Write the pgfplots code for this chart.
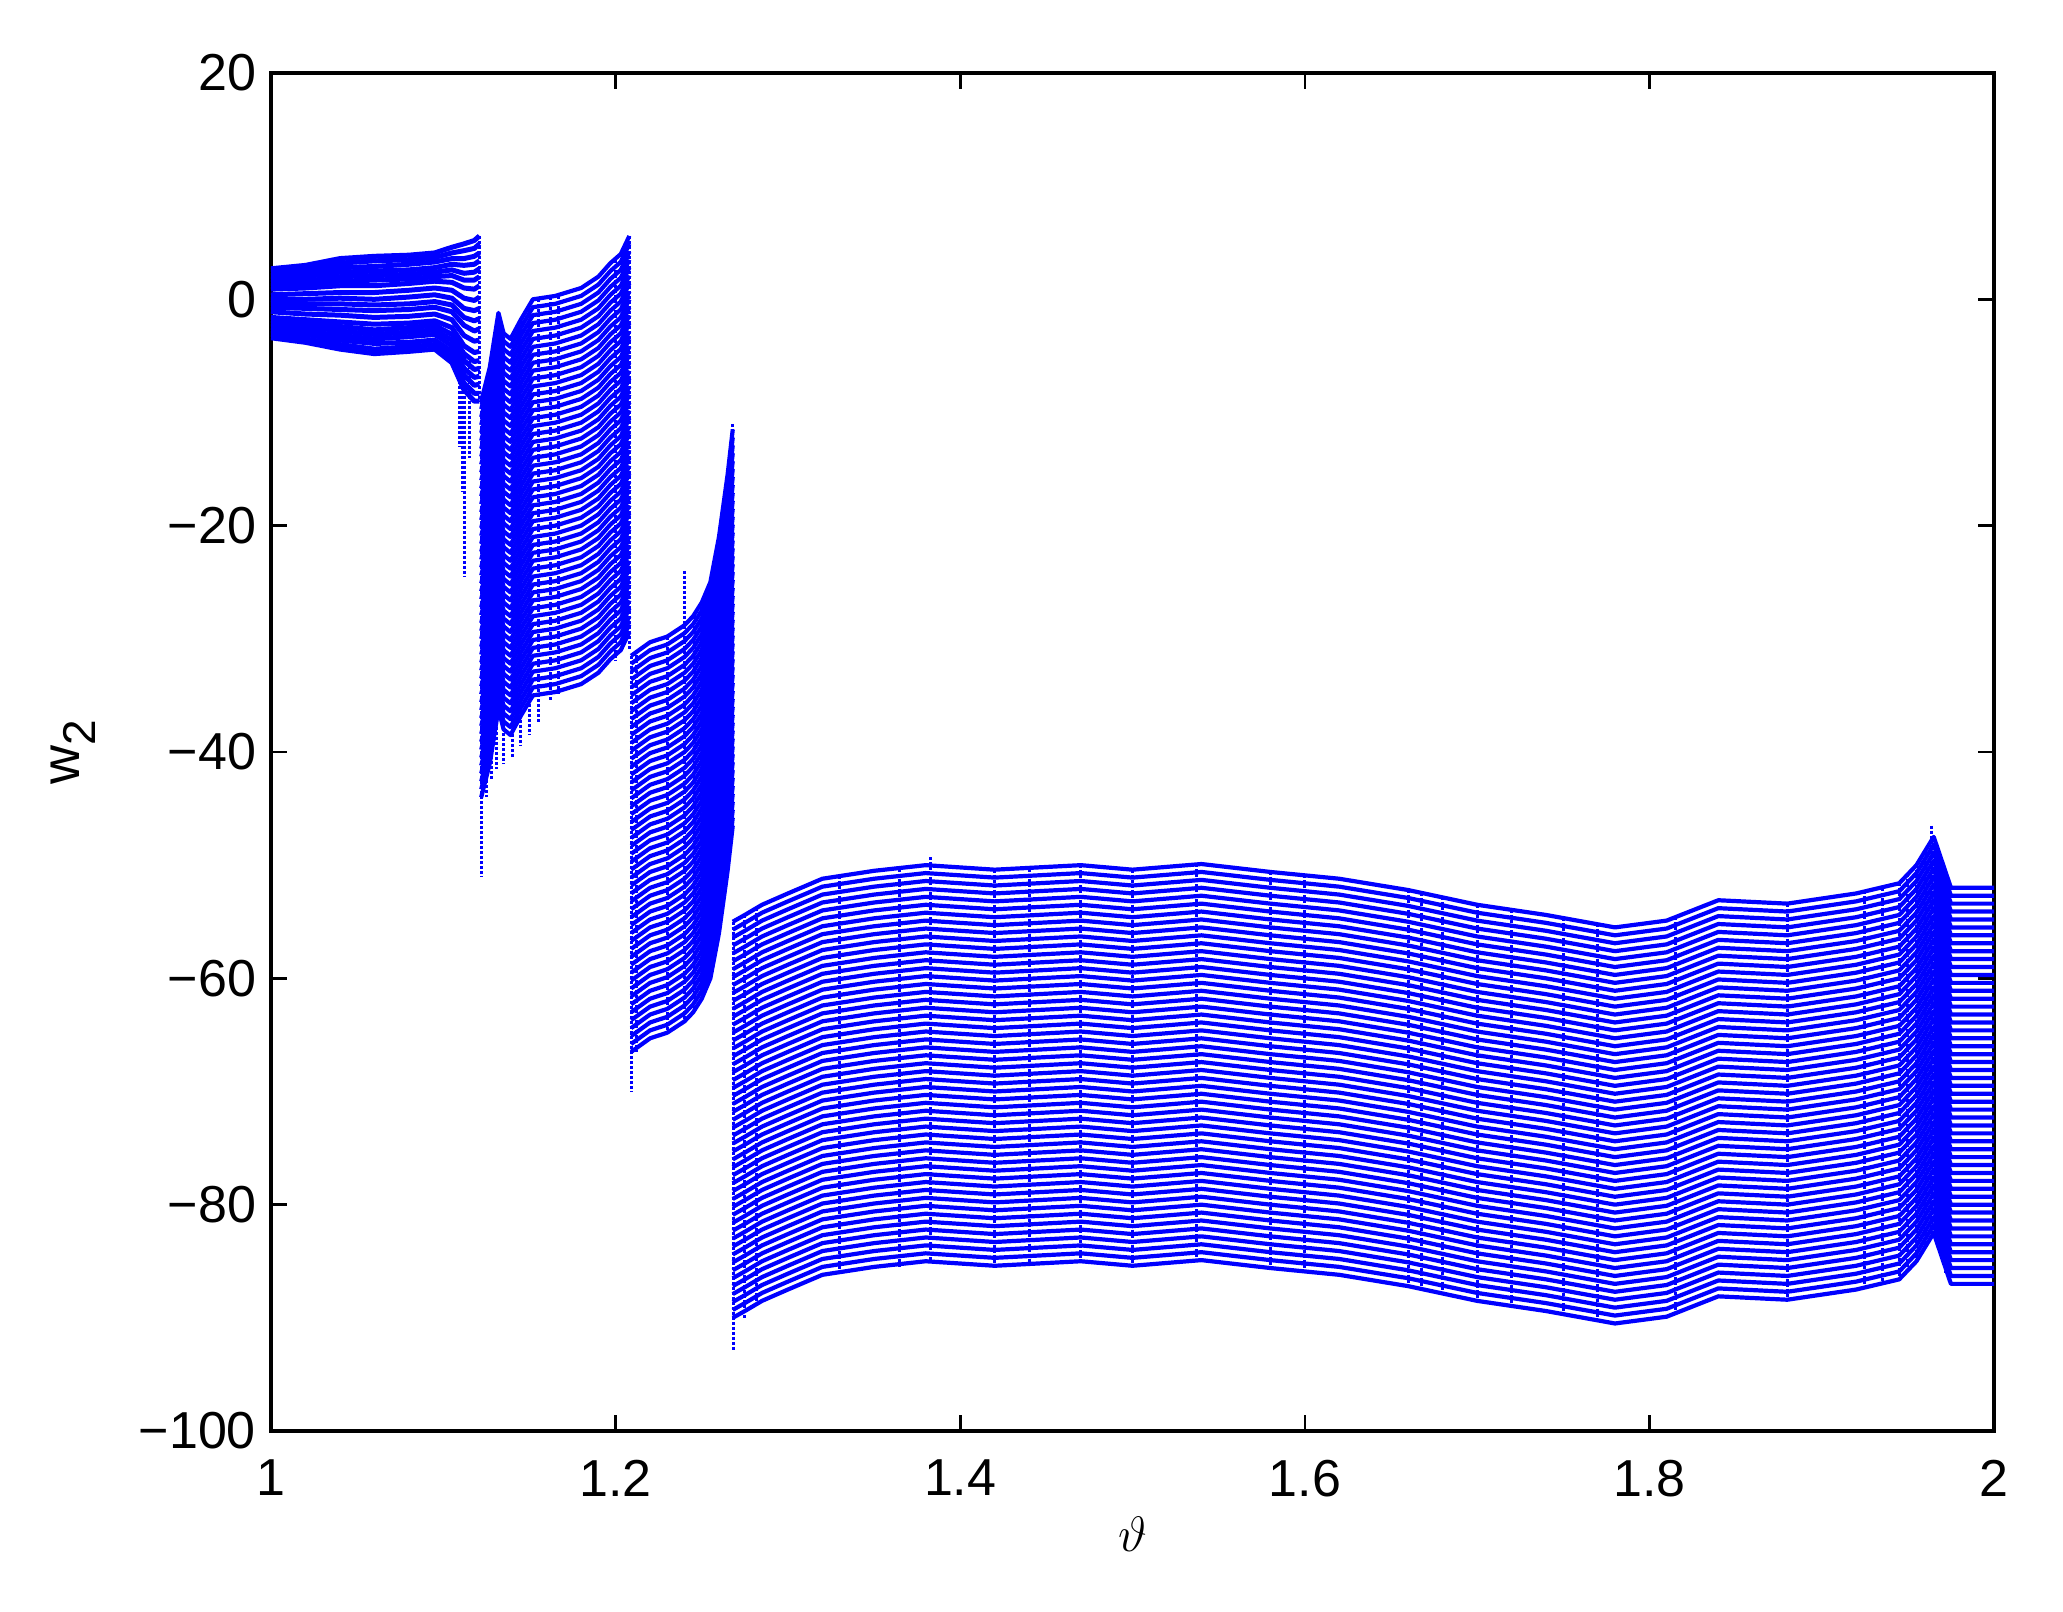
\documentclass[border=0pt]{standalone}
\usepackage{pgfplots}
\usepackage{pgfplotstable}
\pgfplotsset{compat=1.18}
\usepackage{fontspec}
\setmainfont{Liberation Sans}
\pgfplotstableread{
1.000 2.7 2.4 2.1 1.8 1.5 1.2 0.9 0.4 0.0 -0.4 -0.7 -1.1 -1.6 -1.9 -2.2 -2.5 -2.8 -3.1 -3.4
1.020 3.0 2.7 2.3 2.0 1.6 1.3 1.0 0.5 0.0 -0.4 -0.8 -1.3 -1.8 -2.1 -2.4 -2.8 -3.1 -3.5 -3.8
1.040 3.6 3.2 2.8 2.4 2.0 1.6 1.2 0.6 0.1 -0.4 -0.9 -1.4 -2.0 -2.4 -2.8 -3.2 -3.6 -4.0 -4.4
1.060 3.8 3.4 2.9 2.5 2.1 1.7 1.2 0.6 0.0 -0.5 -1.0 -1.6 -2.2 -2.7 -3.1 -3.5 -3.9 -4.4 -4.8
1.080 3.9 3.5 3.1 2.6 2.2 1.8 1.4 0.8 0.2 -0.4 -0.9 -1.5 -2.1 -2.5 -2.9 -3.3 -3.8 -4.2 -4.6
1.095 4.1 3.7 3.3 2.8 2.4 2.0 1.6 1.0 0.4 -0.2 -0.7 -1.3 -1.9 -2.3 -2.7 -3.1 -3.6 -4.0 -4.4
1.105 4.6 4.1 3.6 3.1 2.6 2.1 1.5 0.8 0.1 -0.5 -1.1 -1.8 -2.5 -3.1 -3.6 -4.1 -4.6 -5.1 -5.6
1.112 4.9 4.3 3.6 3.0 2.3 1.7 1.0 0.1 -0.8 -1.6 -2.3 -3.2 -4.1 -4.8 -5.4 -6.1 -6.7 -7.4 -8.0
1.118 5.2 4.5 3.8 3.1 2.4 1.7 0.9 -0.1 -1.0 -1.9 -2.8 -3.7 -4.7 -5.5 -6.2 -6.9 -7.6 -8.3 -9.0
1.121 5.6 4.9 4.1 3.4 2.7 2.0 1.2 0.2 -0.8 -1.7 -2.6 -3.6 -4.6 -5.4 -6.1 -6.8 -7.5 -8.3 -9.0
}\bandA
\pgfplotstableread{
1.122 -9.0 -9.7 -10.4 -11.1 -11.8 -12.5 -13.2 -13.9 -14.6 -15.3 -16.0 -16.7 -17.4 -18.1 -18.8 -19.5 -20.2 -20.9 -21.6 -22.3 -23.0 -23.7 -24.4 -25.1 -25.8 -26.5 -27.2 -27.9 -28.6 -29.3 -30.0 -30.7 -31.4 -32.1 -32.8 -33.5 -34.2 -34.9 -35.6 -36.3 -37.0 -37.7 -38.4 -39.1 -39.8 -40.5 -41.2 -41.9 -42.6 -43.3 -44.0
1.127 -6.0 -6.7 -7.4 -8.1 -8.8 -9.5 -10.2 -10.9 -11.6 -12.3 -13.0 -13.7 -14.4 -15.1 -15.8 -16.5 -17.2 -17.9 -18.6 -19.3 -20.0 -20.7 -21.4 -22.1 -22.8 -23.5 -24.2 -24.9 -25.6 -26.3 -27.0 -27.7 -28.4 -29.1 -29.8 -30.5 -31.2 -31.9 -32.6 -33.3 -34.0 -34.7 -35.4 -36.1 -36.8 -37.5 -38.2 -38.9 -39.6 -40.3 -41.0
1.132 -1.2 -1.9 -2.6 -3.3 -4.0 -4.7 -5.4 -6.1 -6.8 -7.5 -8.2 -8.9 -9.6 -10.3 -11.0 -11.7 -12.4 -13.1 -13.8 -14.5 -15.2 -15.9 -16.6 -17.3 -18.0 -18.7 -19.4 -20.1 -20.8 -21.5 -22.2 -22.9 -23.6 -24.3 -25.0 -25.7 -26.4 -27.1 -27.8 -28.5 -29.2 -29.9 -30.6 -31.3 -32.0 -32.7 -33.4 -34.1 -34.8 -35.5 -36.2
1.135 -3.0 -3.7 -4.4 -5.1 -5.8 -6.5 -7.2 -7.9 -8.6 -9.3 -10.0 -10.7 -11.4 -12.1 -12.8 -13.5 -14.2 -14.9 -15.6 -16.3 -17.0 -17.7 -18.4 -19.1 -19.8 -20.5 -21.2 -21.9 -22.6 -23.3 -24.0 -24.7 -25.4 -26.1 -26.8 -27.5 -28.2 -28.9 -29.6 -30.3 -31.0 -31.7 -32.4 -33.1 -33.8 -34.5 -35.2 -35.9 -36.6 -37.3 -38.0
1.139 -3.5 -4.2 -4.9 -5.6 -6.3 -7.0 -7.7 -8.4 -9.1 -9.8 -10.5 -11.2 -11.9 -12.6 -13.3 -14.0 -14.7 -15.4 -16.1 -16.8 -17.5 -18.2 -18.9 -19.6 -20.3 -21.0 -21.7 -22.4 -23.1 -23.8 -24.5 -25.2 -25.9 -26.6 -27.3 -28.0 -28.7 -29.4 -30.1 -30.8 -31.5 -32.2 -32.9 -33.6 -34.3 -35.0 -35.7 -36.4 -37.1 -37.8 -38.5
1.145 -1.8 -2.5 -3.2 -3.9 -4.6 -5.3 -6.0 -6.7 -7.4 -8.1 -8.8 -9.5 -10.2 -10.9 -11.6 -12.3 -13.0 -13.7 -14.4 -15.1 -15.8 -16.5 -17.2 -17.9 -18.6 -19.3 -20.0 -20.7 -21.4 -22.1 -22.8 -23.5 -24.2 -24.9 -25.6 -26.3 -27.0 -27.7 -28.4 -29.1 -29.8 -30.5 -31.2 -31.9 -32.6 -33.3 -34.0 -34.7 -35.4 -36.1 -36.8
1.152 0.0 -0.7 -1.4 -2.1 -2.8 -3.5 -4.2 -4.9 -5.6 -6.3 -7.0 -7.7 -8.4 -9.1 -9.8 -10.5 -11.2 -11.9 -12.6 -13.3 -14.0 -14.7 -15.4 -16.1 -16.8 -17.5 -18.2 -18.9 -19.6 -20.3 -21.0 -21.7 -22.4 -23.1 -23.8 -24.5 -25.2 -25.9 -26.6 -27.3 -28.0 -28.7 -29.4 -30.1 -30.8 -31.5 -32.2 -32.9 -33.6 -34.3 -35.0
1.165 0.3 -0.4 -1.1 -1.8 -2.5 -3.2 -3.9 -4.6 -5.3 -6.0 -6.7 -7.4 -8.1 -8.8 -9.5 -10.2 -10.9 -11.6 -12.3 -13.0 -13.7 -14.4 -15.1 -15.8 -16.5 -17.2 -17.9 -18.6 -19.3 -20.0 -20.7 -21.4 -22.1 -22.8 -23.5 -24.2 -24.9 -25.6 -26.3 -27.0 -27.7 -28.4 -29.1 -29.8 -30.5 -31.2 -31.9 -32.6 -33.3 -34.0 -34.7
1.180 1.0 0.3 -0.4 -1.1 -1.8 -2.5 -3.2 -3.9 -4.6 -5.3 -6.0 -6.7 -7.4 -8.1 -8.8 -9.5 -10.2 -10.9 -11.6 -12.3 -13.0 -13.7 -14.4 -15.1 -15.8 -16.5 -17.2 -17.9 -18.6 -19.3 -20.0 -20.7 -21.4 -22.1 -22.8 -23.5 -24.2 -24.9 -25.6 -26.3 -27.0 -27.7 -28.4 -29.1 -29.8 -30.5 -31.2 -31.9 -32.6 -33.3 -34.0
1.190 2.0 1.3 0.6 -0.1 -0.8 -1.5 -2.2 -2.9 -3.6 -4.3 -5.0 -5.7 -6.4 -7.1 -7.8 -8.5 -9.2 -9.9 -10.6 -11.3 -12.0 -12.7 -13.4 -14.1 -14.8 -15.5 -16.2 -16.9 -17.6 -18.3 -19.0 -19.7 -20.4 -21.1 -21.8 -22.5 -23.2 -23.9 -24.6 -25.3 -26.0 -26.7 -27.4 -28.1 -28.8 -29.5 -30.2 -30.9 -31.6 -32.3 -33.0
1.197 3.2 2.5 1.8 1.1 0.4 -0.3 -1.0 -1.7 -2.4 -3.1 -3.8 -4.5 -5.2 -5.9 -6.6 -7.3 -8.0 -8.7 -9.4 -10.1 -10.8 -11.5 -12.2 -12.9 -13.6 -14.3 -15.0 -15.7 -16.4 -17.1 -17.8 -18.5 -19.2 -19.9 -20.6 -21.3 -22.0 -22.7 -23.4 -24.1 -24.8 -25.5 -26.2 -26.9 -27.6 -28.3 -29.0 -29.7 -30.4 -31.1 -31.8
1.203 4.0 3.3 2.6 1.9 1.2 0.5 -0.2 -0.9 -1.6 -2.3 -3.0 -3.7 -4.4 -5.1 -5.8 -6.5 -7.2 -7.9 -8.6 -9.3 -10.0 -10.7 -11.4 -12.1 -12.8 -13.5 -14.2 -14.9 -15.6 -16.3 -17.0 -17.7 -18.4 -19.1 -19.8 -20.5 -21.2 -21.9 -22.6 -23.3 -24.0 -24.7 -25.4 -26.1 -26.8 -27.5 -28.2 -28.9 -29.6 -30.3 -31.0
1.208 5.6 4.9 4.2 3.5 2.8 2.1 1.4 0.7 0.0 -0.7 -1.4 -2.1 -2.8 -3.5 -4.2 -4.9 -5.6 -6.3 -7.0 -7.7 -8.4 -9.1 -9.8 -10.5 -11.2 -11.9 -12.6 -13.3 -14.0 -14.7 -15.4 -16.1 -16.8 -17.5 -18.2 -18.9 -19.6 -20.3 -21.0 -21.7 -22.4 -23.1 -23.8 -24.5 -25.2 -25.9 -26.6 -27.3 -28.0 -28.7 -29.4
}\bandB
\pgfplotstableread{
1.209 -31.5 -32.2 -32.9 -33.6 -34.3 -35.0 -35.7 -36.4 -37.1 -37.8 -38.5 -39.2 -39.9 -40.6 -41.3 -42.0 -42.7 -43.4 -44.1 -44.8 -45.5 -46.2 -46.9 -47.6 -48.3 -49.0 -49.7 -50.4 -51.1 -51.8 -52.5 -53.2 -53.9 -54.6 -55.3 -56.0 -56.7 -57.4 -58.1 -58.8 -59.5 -60.2 -60.9 -61.6 -62.3 -63.0 -63.7 -64.4 -65.1 -65.8 -66.5
1.220 -30.3 -31.0 -31.7 -32.4 -33.1 -33.8 -34.5 -35.2 -35.9 -36.6 -37.3 -38.0 -38.7 -39.4 -40.1 -40.8 -41.5 -42.2 -42.9 -43.6 -44.3 -45.0 -45.7 -46.4 -47.1 -47.8 -48.5 -49.2 -49.9 -50.6 -51.3 -52.0 -52.7 -53.4 -54.1 -54.8 -55.5 -56.2 -56.9 -57.6 -58.3 -59.0 -59.7 -60.4 -61.1 -61.8 -62.5 -63.2 -63.9 -64.6 -65.3
1.230 -29.8 -30.5 -31.2 -31.9 -32.6 -33.3 -34.0 -34.7 -35.4 -36.1 -36.8 -37.5 -38.2 -38.9 -39.6 -40.3 -41.0 -41.7 -42.4 -43.1 -43.8 -44.5 -45.2 -45.9 -46.6 -47.3 -48.0 -48.7 -49.4 -50.1 -50.8 -51.5 -52.2 -52.9 -53.6 -54.3 -55.0 -55.7 -56.4 -57.1 -57.8 -58.5 -59.2 -59.9 -60.6 -61.3 -62.0 -62.7 -63.4 -64.1 -64.8
1.240 -28.8 -29.5 -30.2 -30.9 -31.6 -32.3 -33.0 -33.7 -34.4 -35.1 -35.8 -36.5 -37.2 -37.9 -38.6 -39.3 -40.0 -40.7 -41.4 -42.1 -42.8 -43.5 -44.2 -44.9 -45.6 -46.3 -47.0 -47.7 -48.4 -49.1 -49.8 -50.5 -51.2 -51.9 -52.6 -53.3 -54.0 -54.7 -55.4 -56.1 -56.8 -57.5 -58.2 -58.9 -59.6 -60.3 -61.0 -61.7 -62.4 -63.1 -63.8
1.245 -28.0 -28.7 -29.4 -30.1 -30.8 -31.5 -32.2 -32.9 -33.6 -34.3 -35.0 -35.7 -36.4 -37.1 -37.8 -38.5 -39.2 -39.9 -40.6 -41.3 -42.0 -42.7 -43.4 -44.1 -44.8 -45.5 -46.2 -46.9 -47.6 -48.3 -49.0 -49.7 -50.4 -51.1 -51.8 -52.5 -53.2 -53.9 -54.6 -55.3 -56.0 -56.7 -57.4 -58.1 -58.8 -59.5 -60.2 -60.9 -61.6 -62.3 -63.0
1.250 -26.8 -27.5 -28.2 -28.9 -29.6 -30.3 -31.0 -31.7 -32.4 -33.1 -33.8 -34.5 -35.2 -35.9 -36.6 -37.3 -38.0 -38.7 -39.4 -40.1 -40.8 -41.5 -42.2 -42.9 -43.6 -44.3 -45.0 -45.7 -46.4 -47.1 -47.8 -48.5 -49.2 -49.9 -50.6 -51.3 -52.0 -52.7 -53.4 -54.1 -54.8 -55.5 -56.2 -56.9 -57.6 -58.3 -59.0 -59.7 -60.4 -61.1 -61.8
1.255 -25.0 -25.7 -26.4 -27.1 -27.8 -28.5 -29.2 -29.9 -30.6 -31.3 -32.0 -32.7 -33.4 -34.1 -34.8 -35.5 -36.2 -36.9 -37.6 -38.3 -39.0 -39.7 -40.4 -41.1 -41.8 -42.5 -43.2 -43.9 -44.6 -45.3 -46.0 -46.7 -47.4 -48.1 -48.8 -49.5 -50.2 -50.9 -51.6 -52.3 -53.0 -53.7 -54.4 -55.1 -55.8 -56.5 -57.2 -57.9 -58.6 -59.3 -60.0
1.260 -21.0 -21.7 -22.4 -23.1 -23.8 -24.5 -25.2 -25.9 -26.6 -27.3 -28.0 -28.7 -29.4 -30.1 -30.8 -31.5 -32.2 -32.9 -33.6 -34.3 -35.0 -35.7 -36.4 -37.1 -37.8 -38.5 -39.2 -39.9 -40.6 -41.3 -42.0 -42.7 -43.4 -44.1 -44.8 -45.5 -46.2 -46.9 -47.6 -48.3 -49.0 -49.7 -50.4 -51.1 -51.8 -52.5 -53.2 -53.9 -54.6 -55.3 -56.0
1.265 -15.5 -16.2 -16.9 -17.6 -18.3 -19.0 -19.7 -20.4 -21.1 -21.8 -22.5 -23.2 -23.9 -24.6 -25.3 -26.0 -26.7 -27.4 -28.1 -28.8 -29.5 -30.2 -30.9 -31.6 -32.3 -33.0 -33.7 -34.4 -35.1 -35.8 -36.5 -37.2 -37.9 -38.6 -39.3 -40.0 -40.7 -41.4 -42.1 -42.8 -43.5 -44.2 -44.9 -45.6 -46.3 -47.0 -47.7 -48.4 -49.1 -49.8 -50.5
1.268 -11.5 -12.2 -12.9 -13.6 -14.3 -15.0 -15.7 -16.4 -17.1 -17.8 -18.5 -19.2 -19.9 -20.6 -21.3 -22.0 -22.7 -23.4 -24.1 -24.8 -25.5 -26.2 -26.9 -27.6 -28.3 -29.0 -29.7 -30.4 -31.1 -31.8 -32.5 -33.2 -33.9 -34.6 -35.3 -36.0 -36.7 -37.4 -38.1 -38.8 -39.5 -40.2 -40.9 -41.6 -42.3 -43.0 -43.7 -44.4 -45.1 -45.8 -46.5
}\bandC
\pgfplotstableread{
1.268 -55.0 -55.7 -56.4 -57.1 -57.8 -58.5 -59.2 -59.9 -60.6 -61.3 -62.0 -62.7 -63.4 -64.1 -64.8 -65.5 -66.2 -66.9 -67.6 -68.3 -69.0 -69.7 -70.4 -71.1 -71.8 -72.5 -73.2 -73.9 -74.6 -75.3 -76.0 -76.7 -77.4 -78.1 -78.8 -79.5 -80.2 -80.9 -81.6 -82.3 -83.0 -83.7 -84.4 -85.1 -85.8 -86.5 -87.2 -87.9 -88.6 -89.3 -90.0
1.275 -54.4 -55.1 -55.8 -56.5 -57.2 -57.9 -58.6 -59.3 -60.0 -60.7 -61.4 -62.1 -62.8 -63.5 -64.2 -64.9 -65.6 -66.3 -67.0 -67.7 -68.4 -69.1 -69.8 -70.5 -71.2 -71.9 -72.6 -73.3 -74.0 -74.7 -75.4 -76.1 -76.8 -77.5 -78.2 -78.9 -79.6 -80.3 -81.0 -81.7 -82.4 -83.1 -83.8 -84.5 -85.2 -85.9 -86.6 -87.3 -88.0 -88.7 -89.4
1.285 -53.5 -54.2 -54.9 -55.6 -56.3 -57.0 -57.7 -58.4 -59.1 -59.8 -60.5 -61.2 -61.9 -62.6 -63.3 -64.0 -64.7 -65.4 -66.1 -66.8 -67.5 -68.2 -68.9 -69.6 -70.3 -71.0 -71.7 -72.4 -73.1 -73.8 -74.5 -75.2 -75.9 -76.6 -77.3 -78.0 -78.7 -79.4 -80.1 -80.8 -81.5 -82.2 -82.9 -83.6 -84.3 -85.0 -85.7 -86.4 -87.1 -87.8 -88.5
1.300 -52.5 -53.2 -53.9 -54.6 -55.3 -56.0 -56.7 -57.4 -58.1 -58.8 -59.5 -60.2 -60.9 -61.6 -62.3 -63.0 -63.7 -64.4 -65.1 -65.8 -66.5 -67.2 -67.9 -68.6 -69.3 -70.0 -70.7 -71.4 -72.1 -72.8 -73.5 -74.2 -74.9 -75.6 -76.3 -77.0 -77.7 -78.4 -79.1 -79.8 -80.5 -81.2 -81.9 -82.6 -83.3 -84.0 -84.7 -85.4 -86.1 -86.8 -87.5
1.320 -51.2 -51.9 -52.6 -53.3 -54.0 -54.7 -55.4 -56.1 -56.8 -57.5 -58.2 -58.9 -59.6 -60.3 -61.0 -61.7 -62.4 -63.1 -63.8 -64.5 -65.2 -65.9 -66.6 -67.3 -68.0 -68.7 -69.4 -70.1 -70.8 -71.5 -72.2 -72.9 -73.6 -74.3 -75.0 -75.7 -76.4 -77.1 -77.8 -78.5 -79.2 -79.9 -80.6 -81.3 -82.0 -82.7 -83.4 -84.1 -84.8 -85.5 -86.2
1.350 -50.5 -51.2 -51.9 -52.6 -53.3 -54.0 -54.7 -55.4 -56.1 -56.8 -57.5 -58.2 -58.9 -59.6 -60.3 -61.0 -61.7 -62.4 -63.1 -63.8 -64.5 -65.2 -65.9 -66.6 -67.3 -68.0 -68.7 -69.4 -70.1 -70.8 -71.5 -72.2 -72.9 -73.6 -74.3 -75.0 -75.7 -76.4 -77.1 -77.8 -78.5 -79.2 -79.9 -80.6 -81.3 -82.0 -82.7 -83.4 -84.1 -84.8 -85.5
1.380 -50.0 -50.7 -51.4 -52.1 -52.8 -53.5 -54.2 -54.9 -55.6 -56.3 -57.0 -57.7 -58.4 -59.1 -59.8 -60.5 -61.2 -61.9 -62.6 -63.3 -64.0 -64.7 -65.4 -66.1 -66.8 -67.5 -68.2 -68.9 -69.6 -70.3 -71.0 -71.7 -72.4 -73.1 -73.8 -74.5 -75.2 -75.9 -76.6 -77.3 -78.0 -78.7 -79.4 -80.1 -80.8 -81.5 -82.2 -82.9 -83.6 -84.3 -85.0
1.420 -50.4 -51.1 -51.8 -52.5 -53.2 -53.9 -54.6 -55.3 -56.0 -56.7 -57.4 -58.1 -58.8 -59.5 -60.2 -60.9 -61.6 -62.3 -63.0 -63.7 -64.4 -65.1 -65.8 -66.5 -67.2 -67.9 -68.6 -69.3 -70.0 -70.7 -71.4 -72.1 -72.8 -73.5 -74.2 -74.9 -75.6 -76.3 -77.0 -77.7 -78.4 -79.1 -79.8 -80.5 -81.2 -81.9 -82.6 -83.3 -84.0 -84.7 -85.4
1.470 -50.0 -50.7 -51.4 -52.1 -52.8 -53.5 -54.2 -54.9 -55.6 -56.3 -57.0 -57.7 -58.4 -59.1 -59.8 -60.5 -61.2 -61.9 -62.6 -63.3 -64.0 -64.7 -65.4 -66.1 -66.8 -67.5 -68.2 -68.9 -69.6 -70.3 -71.0 -71.7 -72.4 -73.1 -73.8 -74.5 -75.2 -75.9 -76.6 -77.3 -78.0 -78.7 -79.4 -80.1 -80.8 -81.5 -82.2 -82.9 -83.6 -84.3 -85.0
1.500 -50.4 -51.1 -51.8 -52.5 -53.2 -53.9 -54.6 -55.3 -56.0 -56.7 -57.4 -58.1 -58.8 -59.5 -60.2 -60.9 -61.6 -62.3 -63.0 -63.7 -64.4 -65.1 -65.8 -66.5 -67.2 -67.9 -68.6 -69.3 -70.0 -70.7 -71.4 -72.1 -72.8 -73.5 -74.2 -74.9 -75.6 -76.3 -77.0 -77.7 -78.4 -79.1 -79.8 -80.5 -81.2 -81.9 -82.6 -83.3 -84.0 -84.7 -85.4
1.540 -49.9 -50.6 -51.3 -52.0 -52.7 -53.4 -54.1 -54.8 -55.5 -56.2 -56.9 -57.6 -58.3 -59.0 -59.7 -60.4 -61.1 -61.8 -62.5 -63.2 -63.9 -64.6 -65.3 -66.0 -66.7 -67.4 -68.1 -68.8 -69.5 -70.2 -70.9 -71.6 -72.3 -73.0 -73.7 -74.4 -75.1 -75.8 -76.5 -77.2 -77.9 -78.6 -79.3 -80.0 -80.7 -81.4 -82.1 -82.8 -83.5 -84.2 -84.9
1.580 -50.6 -51.3 -52.0 -52.7 -53.4 -54.1 -54.8 -55.5 -56.2 -56.9 -57.6 -58.3 -59.0 -59.7 -60.4 -61.1 -61.8 -62.5 -63.2 -63.9 -64.6 -65.3 -66.0 -66.7 -67.4 -68.1 -68.8 -69.5 -70.2 -70.9 -71.6 -72.3 -73.0 -73.7 -74.4 -75.1 -75.8 -76.5 -77.2 -77.9 -78.6 -79.3 -80.0 -80.7 -81.4 -82.1 -82.8 -83.5 -84.2 -84.9 -85.6
1.620 -51.2 -51.9 -52.6 -53.3 -54.0 -54.7 -55.4 -56.1 -56.8 -57.5 -58.2 -58.9 -59.6 -60.3 -61.0 -61.7 -62.4 -63.1 -63.8 -64.5 -65.2 -65.9 -66.6 -67.3 -68.0 -68.7 -69.4 -70.1 -70.8 -71.5 -72.2 -72.9 -73.6 -74.3 -75.0 -75.7 -76.4 -77.1 -77.8 -78.5 -79.2 -79.9 -80.6 -81.3 -82.0 -82.7 -83.4 -84.1 -84.8 -85.5 -86.2
1.660 -52.2 -52.9 -53.6 -54.3 -55.0 -55.7 -56.4 -57.1 -57.8 -58.5 -59.2 -59.9 -60.6 -61.3 -62.0 -62.7 -63.4 -64.1 -64.8 -65.5 -66.2 -66.9 -67.6 -68.3 -69.0 -69.7 -70.4 -71.1 -71.8 -72.5 -73.2 -73.9 -74.6 -75.3 -76.0 -76.7 -77.4 -78.1 -78.8 -79.5 -80.2 -80.9 -81.6 -82.3 -83.0 -83.7 -84.4 -85.1 -85.8 -86.5 -87.2
1.700 -53.5 -54.2 -54.9 -55.6 -56.3 -57.0 -57.7 -58.4 -59.1 -59.8 -60.5 -61.2 -61.9 -62.6 -63.3 -64.0 -64.7 -65.4 -66.1 -66.8 -67.5 -68.2 -68.9 -69.6 -70.3 -71.0 -71.7 -72.4 -73.1 -73.8 -74.5 -75.2 -75.9 -76.6 -77.3 -78.0 -78.7 -79.4 -80.1 -80.8 -81.5 -82.2 -82.9 -83.6 -84.3 -85.0 -85.7 -86.4 -87.1 -87.8 -88.5
1.740 -54.4 -55.1 -55.8 -56.5 -57.2 -57.9 -58.6 -59.3 -60.0 -60.7 -61.4 -62.1 -62.8 -63.5 -64.2 -64.9 -65.6 -66.3 -67.0 -67.7 -68.4 -69.1 -69.8 -70.5 -71.2 -71.9 -72.6 -73.3 -74.0 -74.7 -75.4 -76.1 -76.8 -77.5 -78.2 -78.9 -79.6 -80.3 -81.0 -81.7 -82.4 -83.1 -83.8 -84.5 -85.2 -85.9 -86.6 -87.3 -88.0 -88.7 -89.4
1.780 -55.5 -56.2 -56.9 -57.6 -58.3 -59.0 -59.7 -60.4 -61.1 -61.8 -62.5 -63.2 -63.9 -64.6 -65.3 -66.0 -66.7 -67.4 -68.1 -68.8 -69.5 -70.2 -70.9 -71.6 -72.3 -73.0 -73.7 -74.4 -75.1 -75.8 -76.5 -77.2 -77.9 -78.6 -79.3 -80.0 -80.7 -81.4 -82.1 -82.8 -83.5 -84.2 -84.9 -85.6 -86.3 -87.0 -87.7 -88.4 -89.1 -89.8 -90.5
1.810 -54.9 -55.6 -56.3 -57.0 -57.7 -58.4 -59.1 -59.8 -60.5 -61.2 -61.9 -62.6 -63.3 -64.0 -64.7 -65.4 -66.1 -66.8 -67.5 -68.2 -68.9 -69.6 -70.3 -71.0 -71.7 -72.4 -73.1 -73.8 -74.5 -75.2 -75.9 -76.6 -77.3 -78.0 -78.7 -79.4 -80.1 -80.8 -81.5 -82.2 -82.9 -83.6 -84.3 -85.0 -85.7 -86.4 -87.1 -87.8 -88.5 -89.2 -89.9
1.840 -53.1 -53.8 -54.5 -55.2 -55.9 -56.6 -57.3 -58.0 -58.7 -59.4 -60.1 -60.8 -61.5 -62.2 -62.9 -63.6 -64.3 -65.0 -65.7 -66.4 -67.1 -67.8 -68.5 -69.2 -69.9 -70.6 -71.3 -72.0 -72.7 -73.4 -74.1 -74.8 -75.5 -76.2 -76.9 -77.6 -78.3 -79.0 -79.7 -80.4 -81.1 -81.8 -82.5 -83.2 -83.9 -84.6 -85.3 -86.0 -86.7 -87.4 -88.1
1.880 -53.4 -54.1 -54.8 -55.5 -56.2 -56.9 -57.6 -58.3 -59.0 -59.7 -60.4 -61.1 -61.8 -62.5 -63.2 -63.9 -64.6 -65.3 -66.0 -66.7 -67.4 -68.1 -68.8 -69.5 -70.2 -70.9 -71.6 -72.3 -73.0 -73.7 -74.4 -75.1 -75.8 -76.5 -77.2 -77.9 -78.6 -79.3 -80.0 -80.7 -81.4 -82.1 -82.8 -83.5 -84.2 -84.9 -85.6 -86.3 -87.0 -87.7 -88.4
1.920 -52.5 -53.2 -53.9 -54.6 -55.3 -56.0 -56.7 -57.4 -58.1 -58.8 -59.5 -60.2 -60.9 -61.6 -62.3 -63.0 -63.7 -64.4 -65.1 -65.8 -66.5 -67.2 -67.9 -68.6 -69.3 -70.0 -70.7 -71.4 -72.1 -72.8 -73.5 -74.2 -74.9 -75.6 -76.3 -77.0 -77.7 -78.4 -79.1 -79.8 -80.5 -81.2 -81.9 -82.6 -83.3 -84.0 -84.7 -85.4 -86.1 -86.8 -87.5
1.945 -51.6 -52.3 -53.0 -53.7 -54.4 -55.1 -55.8 -56.5 -57.2 -57.9 -58.6 -59.3 -60.0 -60.7 -61.4 -62.1 -62.8 -63.5 -64.2 -64.9 -65.6 -66.3 -67.0 -67.7 -68.4 -69.1 -69.8 -70.5 -71.2 -71.9 -72.6 -73.3 -74.0 -74.7 -75.4 -76.1 -76.8 -77.5 -78.2 -78.9 -79.6 -80.3 -81.0 -81.7 -82.4 -83.1 -83.8 -84.5 -85.2 -85.9 -86.6
1.955 -50.0 -50.7 -51.4 -52.1 -52.8 -53.5 -54.2 -54.9 -55.6 -56.3 -57.0 -57.7 -58.4 -59.1 -59.8 -60.5 -61.2 -61.9 -62.6 -63.3 -64.0 -64.7 -65.4 -66.1 -66.8 -67.5 -68.2 -68.9 -69.6 -70.3 -71.0 -71.7 -72.4 -73.1 -73.8 -74.5 -75.2 -75.9 -76.6 -77.3 -78.0 -78.7 -79.4 -80.1 -80.8 -81.5 -82.2 -82.9 -83.6 -84.3 -85.0
1.965 -47.5 -48.2 -48.9 -49.6 -50.3 -51.0 -51.7 -52.4 -53.1 -53.8 -54.5 -55.2 -55.9 -56.6 -57.3 -58.0 -58.7 -59.4 -60.1 -60.8 -61.5 -62.2 -62.9 -63.6 -64.3 -65.0 -65.7 -66.4 -67.1 -67.8 -68.5 -69.2 -69.9 -70.6 -71.3 -72.0 -72.7 -73.4 -74.1 -74.8 -75.5 -76.2 -76.9 -77.6 -78.3 -79.0 -79.7 -80.4 -81.1 -81.8 -82.5
1.975 -52.0 -52.7 -53.4 -54.1 -54.8 -55.5 -56.2 -56.9 -57.6 -58.3 -59.0 -59.7 -60.4 -61.1 -61.8 -62.5 -63.2 -63.9 -64.6 -65.3 -66.0 -66.7 -67.4 -68.1 -68.8 -69.5 -70.2 -70.9 -71.6 -72.3 -73.0 -73.7 -74.4 -75.1 -75.8 -76.5 -77.2 -77.9 -78.6 -79.3 -80.0 -80.7 -81.4 -82.1 -82.8 -83.5 -84.2 -84.9 -85.6 -86.3 -87.0
2.000 -52.0 -52.7 -53.4 -54.1 -54.8 -55.5 -56.2 -56.9 -57.6 -58.3 -59.0 -59.7 -60.4 -61.1 -61.8 -62.5 -63.2 -63.9 -64.6 -65.3 -66.0 -66.7 -67.4 -68.1 -68.8 -69.5 -70.2 -70.9 -71.6 -72.3 -73.0 -73.7 -74.4 -75.1 -75.8 -76.5 -77.2 -77.9 -78.6 -79.3 -80.0 -80.7 -81.4 -82.1 -82.8 -83.5 -84.2 -84.9 -85.6 -86.3 -87.0
}\bandD
\begin{document}
\begin{tikzpicture}[x=1pt,y=1pt]
\path[use as bounding box] (-135.5,-90.5) rectangle (896,715.5);
\begin{axis}[
  at={(0,0)},anchor=south west,
  scale only axis,width=861.5pt,height=679pt,
  xmin=1,xmax=2,ymin=-100,ymax=20,
  xtick={1,1.2,1.4,1.6,1.8,2},
  ytick={-100,-80,-60,-40,-20,0,20},
  xticklabels={1,1.2,1.4,1.6,1.8,2},
  yticklabels={−100,−80,−60,−40,−20,0,20},
  tick align=inside,tick pos=both,
  major tick length=8pt,
  every tick/.style={black,line width=1.3pt},
  axis line style={line width=1.6pt},
  tick label style={font=\fontsize{26}{30}\selectfont},
  xticklabel style={yshift=-11pt},
  yticklabel style={xshift=-4pt},
  xlabel={\fontsize{32}{34}\selectfont$\vartheta$},
  ylabel={w\raisebox{-8pt}{\fontsize{23}{24}\selectfont 2}},
  ylabel shift=15pt,
  xlabel shift=3pt,
  label style={font=\fontsize{27}{30}\selectfont},
  stripe/.style={blue,line width=2.1pt,line join=round,no markers},
  col/.style={blue,line width=1.5pt,dash pattern=on 1.5pt off 1pt,no markers,unbounded coords=jump},
]
\pgfplotsinvokeforeach{1,...,19}{\addplot[stripe,line width=2.5pt] table[x index=0,y index=#1]{\bandA};}
\pgfplotsinvokeforeach{1,...,51}{\addplot[stripe] table[x index=0,y index=#1]{\bandB};}
\pgfplotsinvokeforeach{1,...,51}{\addplot[stripe] table[x index=0,y index=#1]{\bandC};}
\pgfplotsinvokeforeach{1,...,51}{\addplot[stripe] table[x index=0,y index=#1]{\bandD};}
\addplot[col] coordinates {
(1.1095,-5)(1.1095,-13)(1.1095,nan)
(1.111,-5)(1.111,-17)(1.111,nan)
(1.1125,-5)(1.1125,-24.5)(1.1125,nan)
(1.115,-5)(1.115,-14)(1.115,nan)
(1.121,5.6)(1.121,-9)(1.121,nan)
(1.122,-9)(1.122,-51)(1.122,nan)
(1.125,-8)(1.125,-44)(1.125,nan)
(1.128,-5)(1.128,-42.5)(1.128,nan)
(1.131,-2)(1.131,-41.5)(1.131,nan)
(1.135,-3)(1.135,-41)(1.135,nan)
(1.14,-3.5)(1.14,-40.5)(1.14,nan)
(1.145,-1.8)(1.145,-39.5)(1.145,nan)
(1.15,-0.4)(1.15,-38.5)(1.15,nan)
(1.155,0)(1.155,-37.5)(1.155,nan)
(1.162,0.2)(1.162,-35.5)(1.162,nan)
(1.167,0.3)(1.167,-35)(1.167,nan)
(1.2,3.5)(1.2,-32)(1.2,nan)
(1.208,5.6)(1.208,-31)(1.208,nan)
(1.209,-31.5)(1.209,-70)(1.209,nan)
(1.212,-31)(1.212,-66.5)(1.212,nan)
(1.23,-29.8)(1.23,-64.8)(1.23,nan)
(1.24,-24)(1.24,-63.8)(1.24,nan)
(1.246,-28)(1.246,-63)(1.246,nan)
(1.25,-26.8)(1.25,-61.8)(1.25,nan)
(1.256,-24)(1.256,-59)(1.256,nan)
(1.262,-19)(1.262,-54)(1.262,nan)
(1.268,-11)(1.268,-46.5)(1.268,nan)
(1.2685,-55)(1.2685,-92.8)(1.2685,nan)
(1.275,-54.4)(1.275,-90)(1.275,nan)
(1.282,-53.8)(1.282,-89)(1.282,nan)
(1.33,-51)(1.33,-86.2)(1.33,nan)
(1.365,-50.3)(1.365,-85.6)(1.365,nan)
(1.383,-49.3)(1.383,-85)(1.383,nan)
(1.42,-50.4)(1.42,-85.4)(1.42,nan)
(1.44,-50.3)(1.44,-85.3)(1.44,nan)
(1.47,-50)(1.47,-85)(1.47,nan)
(1.5,-50.4)(1.5,-85.4)(1.5,nan)
(1.537,-49.9)(1.537,-85)(1.537,nan)
(1.58,-50.6)(1.58,-85.6)(1.58,nan)
(1.6,-50.9)(1.6,-86)(1.6,nan)
(1.66,-52.2)(1.66,-87.2)(1.66,nan)
(1.668,-52.5)(1.668,-87.5)(1.668,nan)
(1.68,-52.8)(1.68,-88)(1.68,nan)
(1.7,-53.5)(1.7,-88.5)(1.7,nan)
(1.72,-54)(1.72,-89)(1.72,nan)
(1.75,-54.7)(1.75,-89.7)(1.75,nan)
(1.77,-55.2)(1.77,-90.2)(1.77,nan)
(1.815,-54.6)(1.815,-89.5)(1.815,nan)
(1.88,-53.4)(1.88,-88.4)(1.88,nan)
(1.925,-52.3)(1.925,-87.3)(1.925,nan)
(1.935,-52)(1.935,-87)(1.935,nan)
(1.945,-51.6)(1.945,-86.6)(1.945,nan)
(1.95,-50.8)(1.95,-85.8)(1.95,nan)
(1.955,-50)(1.955,-85)(1.955,nan)
(1.96,-48.8)(1.96,-83.8)(1.96,nan)
(1.964,-46.5)(1.964,-82.5)(1.964,nan)
(1.968,-49)(1.968,-84)(1.968,nan)
(1.972,-51)(1.972,-86)(1.972,nan)
};
\end{axis}
\end{tikzpicture}
\end{document}
